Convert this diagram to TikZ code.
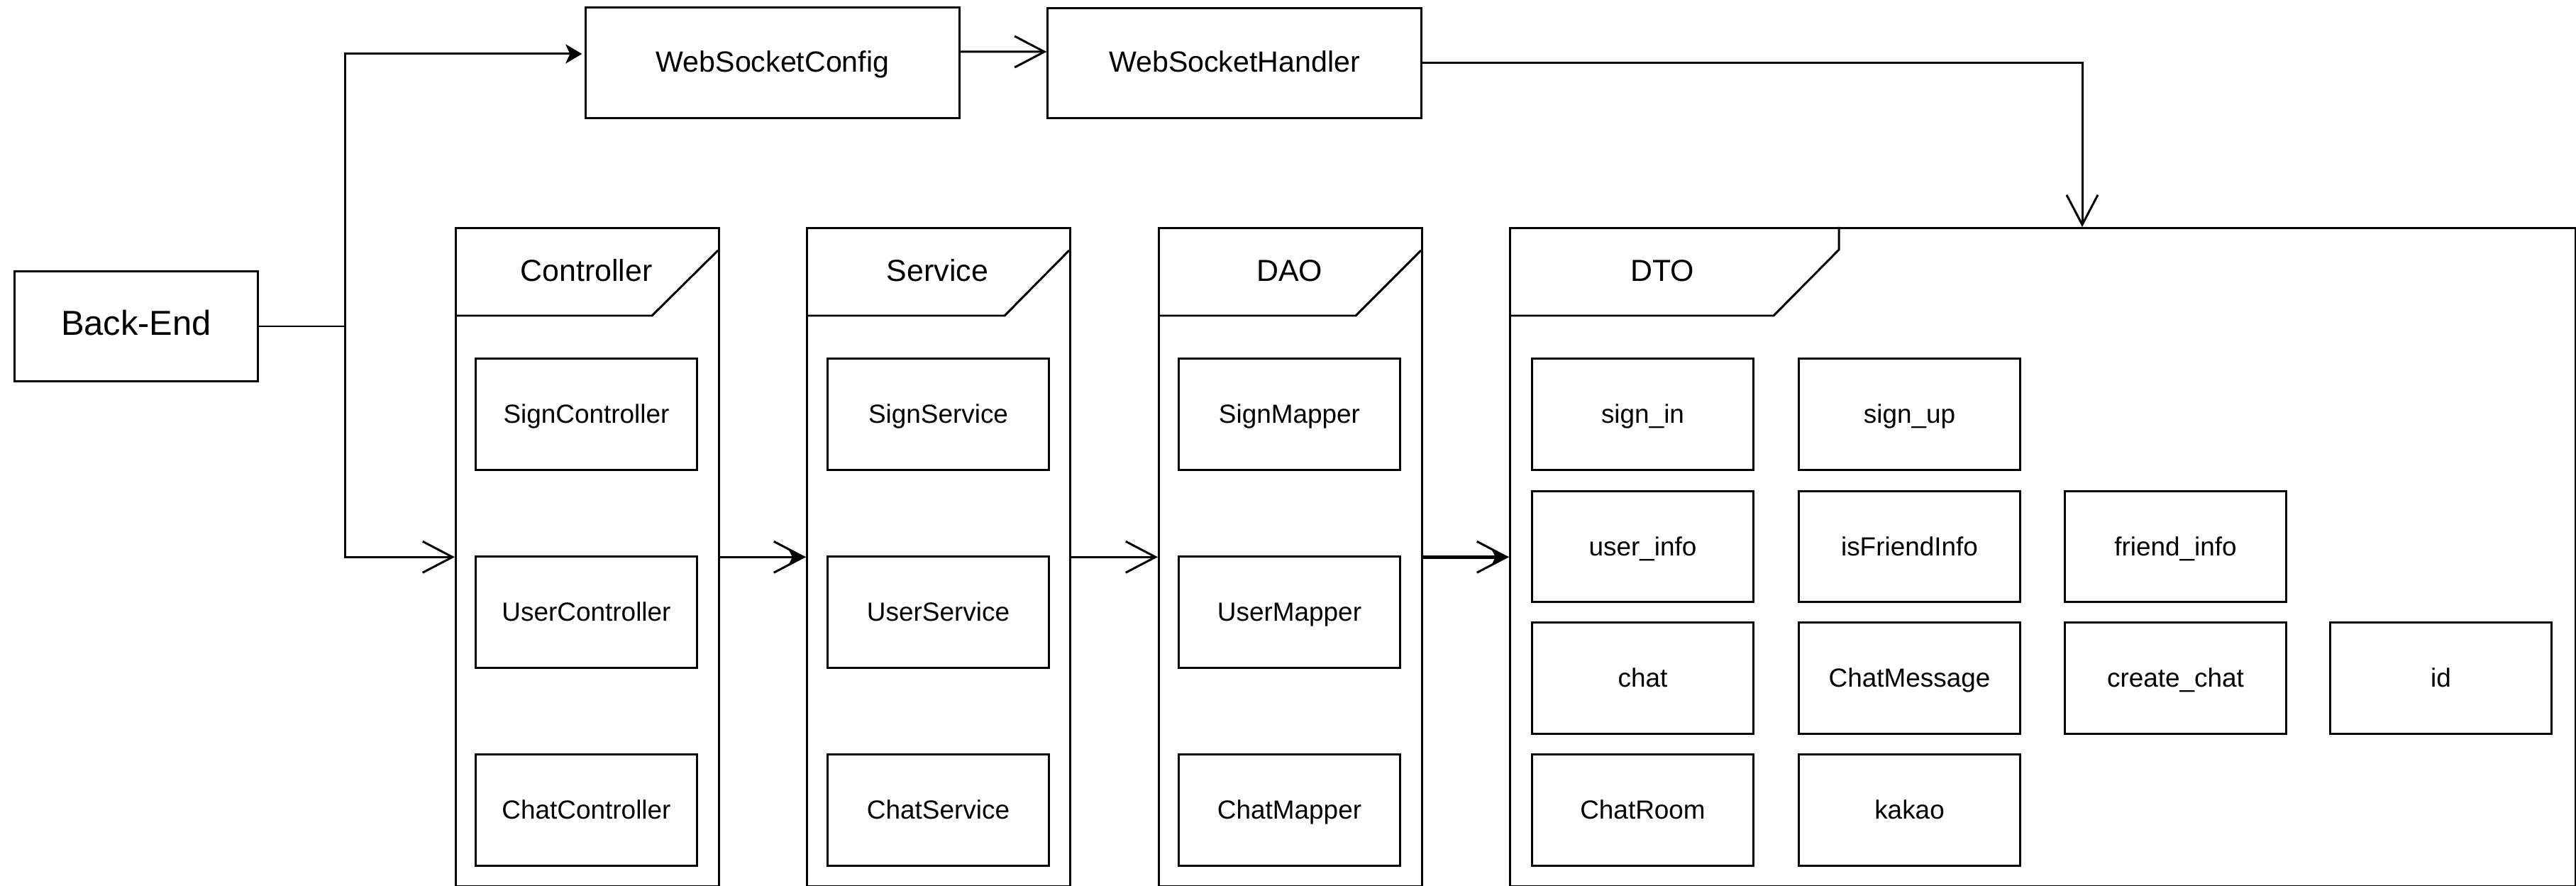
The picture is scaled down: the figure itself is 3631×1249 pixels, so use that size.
\documentclass[tikz,border=0pt]{standalone}
\usepackage{fontspec}
\setmainfont{Liberation Sans}
\usetikzlibrary{arrows.meta}
\begin{document}
\begin{tikzpicture}[x=0.01cm,y=-0.01cm,
  every node/.style={inner sep=0pt, text height=0.716em, text depth=0pt},
  ln/.style={line width=0.85pt},
  unit/.style={draw, ln, minimum width=3.11cm, minimum height=1.56cm,
    font=\fontsize{10.5}{12}\selectfont},
  topbox/.style={draw, ln, minimum width=5.26cm, minimum height=1.55cm,
    font=\fontsize{11.7}{14}\selectfont},
  pkg/.style={draw, ln, anchor=north west, minimum height=9.27cm},
  pkgtitle/.style={font=\fontsize{12.2}{14}\selectfont},
  openhead/.style={ln, -{Straight Barb[length=0.42cm,width=0.44cm]}},
  darttip/.style={ln, -{Stealth[length=0.24cm,width=0.2cm,inset=0.05cm]}},
  smallhead/.style={ln, -{Stealth[length=0.23cm,width=0.27cm,inset=0.06cm]}}
]
\useasboundingbox (0,0) rectangle (3631,1249);

% entry point and websocket chain
\node[draw, ln, minimum width=3.42cm, minimum height=1.55cm,
  font=\fontsize{13.9}{16}\selectfont] (be) at (192,460) {Back-End};
\node[topbox] (wsc) at (1089,88.5) {WebSocketConfig};
\node[topbox] (wsh) at (1740,89) {WebSocketHandler};

% layer packages
\node[pkg, minimum width=3.71cm] (ctrl) at (641,320) {};
\node[pkg, minimum width=3.71cm] (svc) at (1136,320) {};
\node[pkg, minimum width=3.71cm] (dao) at (1632,320) {};
\node[pkg, minimum width=15.01cm] (dto) at (2127,320) {};

% package tabs
\draw[ln] (641,445) -- (919,445) -- (1012,353);
\draw[ln] (1136,445) -- (1416,445) -- (1507,353);
\draw[ln] (1632,445) -- (1911,445) -- (2003,353);
\draw[ln] (2127,445) -- (2500,445) -- (2592,352) -- (2592,320);
\node[pkgtitle] (ctrlT) at (826.5,384) {Controller};
\node[pkgtitle] (svcT) at (1321.5,384) {Service};
\node[pkgtitle] (daoT) at (1817.5,384) {DAO};
\node[pkgtitle] (dtoT) at (2343,384) {DTO};

% controllers
\node[unit] (c1) at (826.5,584) {SignController};
\node[unit] (c2) at (826.5,863) {UserController};
\node[unit] (c3) at (826.5,1142) {ChatController};
% services
\node[unit] (s1) at (1322.5,584) {SignService};
\node[unit] (s2) at (1322.5,863) {UserService};
\node[unit] (s3) at (1322.5,1142) {ChatService};
% mappers
\node[unit] (m1) at (1817.5,584) {SignMapper};
\node[unit] (m2) at (1817.5,863) {UserMapper};
\node[unit] (m3) at (1817.5,1142) {ChatMapper};

% data transfer objects
\node[unit] (d11) at (2315.5,584) {sign\_in};
\node[unit] (d12) at (2691.5,584) {sign\_up};
\node[unit] (d21) at (2315.5,770.5) {user\_info};
\node[unit] (d22) at (2691.5,770.5) {isFriendInfo};
\node[unit] (d23) at (3066.5,770.5) {friend\_info};
\node[unit] (d31) at (2315.5,956) {chat};
\node[unit] (d32) at (2691.5,956) {ChatMessage};
\node[unit] (d33) at (3066.5,956) {create\_chat};
\node[unit] (d34) at (3440.5,956) {id};
\node[unit] (d41) at (2315.5,1142) {ChatRoom};
\node[unit] (d42) at (2691.5,1142) {kakao};

% connectors
\coordinate (split) at (486,460);
\draw[ln] (be.east) -- (split);
\draw[smallhead] (split) |- ([yshift=0.125cm,xshift=-0.04cm]wsc.west);
\draw[openhead] (split) |- (ctrl.west);
\draw[openhead] ([yshift=0.155cm]wsc.east) -- ([yshift=0.16cm]wsh.west);
\draw[openhead] (wsh.east) -| ([xshift=0.555cm]dto.north);
\draw[openhead] (ctrl.east) -- (svc.west);
\draw[darttip] (ctrl.east) -- (svc.west);
\draw[openhead] (svc.east) -- (dao.west);
% heavier shaft with thin barbs into the DTO package
\draw[line width=1.5pt, shorten >=0.2cm] (dao.east) -- (dto.west);
\draw[openhead] (dao.east) -- (dto.west);
\draw[darttip] (dao.east) -- (dto.west);
\end{tikzpicture}
\end{document}
